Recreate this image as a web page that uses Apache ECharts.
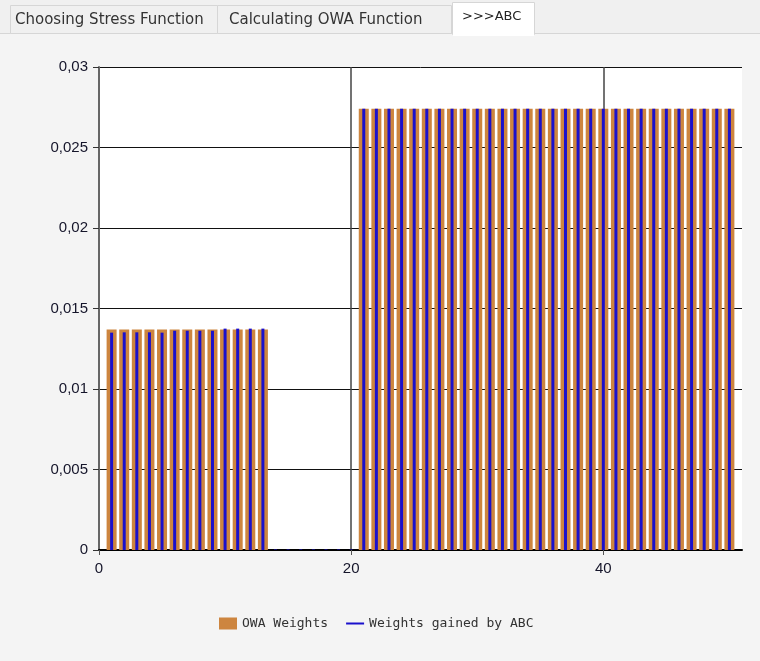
<!DOCTYPE html>
<html lang="en" style="height: 100%">
<head>
  <meta charset="utf-8">
</head>
<body style="height: 100%; margin: 0">
  <div id="container" style="width: 760px; height: 661px"></div>

  <script type="text/javascript" src="https://fastly.jsdelivr.net/npm/echarts@6/dist/echarts.min.js"></script>
  <script type="text/javascript">
    // x positions of the weights
    var positions = [1, 2, 3, 4, 5, 6, 7, 8, 9, 10, 11, 12, 13, 14, 15, 16, 17, 18, 19, 20,
      21, 22, 23, 24, 25, 26, 27, 28, 29, 30, 31, 32, 33, 34, 35, 36, 37, 38, 39, 40,
      41, 42, 43, 44, 45, 46, 47, 48, 49, 50];
    // OWA Weights (orange columns)
    var owaWeights = [0.0137, 0.0137, 0.0137, 0.0137, 0.0137, 0.0137, 0.0137, 0.0137, 0.0137, 0.0137,
      0.0137, 0.0137, 0.0137, 0, 0, 0, 0, 0, 0, 0,
      0.0274, 0.0274, 0.0274, 0.0274, 0.0274, 0.0274, 0.0274, 0.0274, 0.0274, 0.0274,
      0.0274, 0.0274, 0.0274, 0.0274, 0.0274, 0.0274, 0.0274, 0.0274, 0.0274, 0.0274,
      0.0274, 0.0274, 0.0274, 0.0274, 0.0274, 0.0274, 0.0274, 0.0274, 0.0274, 0.0274];
    // Weights gained by ABC (thin blue)
    var abcWeights = [0.0135, 0.01352, 0.01352, 0.01352, 0.0135, 0.01362, 0.01362, 0.01362, 0.01362, 0.01375,
      0.01375, 0.01375, 0.01375, 0.00003, 0.00003, 0.00003, 0.00003, 0.00003, 0.00003, 0.00003,
      0.0274, 0.0274, 0.0274, 0.0274, 0.0274, 0.0274, 0.0274, 0.0274, 0.0274, 0.0274,
      0.0274, 0.0274, 0.0274, 0.0274, 0.0274, 0.0274, 0.0274, 0.0274, 0.0274, 0.0274,
      0.0274, 0.0274, 0.0274, 0.0274, 0.0274, 0.0274, 0.0274, 0.0274, 0.0274, 0.0274];
    var tabNames = ['Choosing Stress Function', 'Calculating OWA Function', '>>>ABC'];

    var dom = document.getElementById('container');
    var myChart = echarts.init(dom, null, { renderer: 'canvas' });

    var labelFont = { fontFamily: 'Liberation Sans', fontSize: 15, color: '#15152a' };

    var option = {
      backgroundColor: '#f4f4f4',
      animation: false,
      graphic: [
        { type: 'rect', shape: { x: 0, y: 0, width: 760, height: 33 }, style: { fill: '#f0f0f0' } },
        { type: 'line', shape: { x1: 0, y1: 33.5, x2: 760, y2: 33.5 }, style: { stroke: '#d6d6d6', lineWidth: 1 } },
        { type: 'rect', shape: { x: 10.5, y: 5.5, width: 207, height: 28 }, style: { fill: '#f0f0f0', stroke: '#d6d6d6' } },
        { type: 'rect', shape: { x: 217.5, y: 5.5, width: 234, height: 28 }, style: { fill: '#f0f0f0', stroke: '#d6d6d6' } },
        { type: 'rect', shape: { x: 452.5, y: 2.5, width: 82, height: 32 }, style: { fill: '#ffffff', stroke: '#d6d6d6' } },
        { type: 'rect', shape: { x: 453, y: 33, width: 81, height: 3 }, style: { fill: '#ffffff' } },
        { type: 'text', x: 15, y: 20, style: { text: tabNames[0], font: '15px "DejaVu Sans"', fill: '#333', align: 'left', verticalAlign: 'middle' } },
        { type: 'text', x: 229, y: 20, style: { text: tabNames[1], font: '15px "DejaVu Sans"', fill: '#333', align: 'left', verticalAlign: 'middle' } },
        { type: 'text', x: 462, y: 17, style: { text: tabNames[2], font: '13px "DejaVu Sans"', fill: '#222', align: 'left', verticalAlign: 'middle' } }
      ],
      legend: {
        left: 219,
        top: 617,
        padding: 0,
        itemWidth: 18,
        itemHeight: 12,
        itemGap: 18,
        textStyle: { fontFamily: 'DejaVu Sans Mono', fontSize: 13, color: '#333' },
        data: [
          { name: 'OWA Weights', icon: 'rect' },
          { name: 'Weights gained by ABC', icon: 'path://M0,0H18V2H0Z', itemStyle: { color: '#1a10cc' } }
        ]
      },
      grid: {
        left: 99,
        right: 18,
        top: 67,
        bottom: 111,
        show: true,
        backgroundColor: '#ffffff',
        borderWidth: 0
      },
      xAxis: [
        {
          type: 'value',
          min: 0,
          max: 51,
          interval: 20,
          axisLine: { show: true, onZero: false, lineStyle: { color: '#000', width: 2 } },
          axisTick: { show: true, length: 5, lineStyle: { color: '#555' } },
          axisLabel: Object.assign({ margin: 11, showMaxLabel: false }, labelFont),
          splitLine: { show: true, showMaxLine: false, lineStyle: { color: '#444', width: 1.5 } }
        },
        { type: 'value', min: 0, max: 51, show: false }
      ],
      yAxis: {
        type: 'value',
        min: 0,
        max: 0.03,
        interval: 0.005,
        axisLine: { show: true, lineStyle: { color: '#666', width: 2 } },
        axisTick: { show: true, length: 6, lineStyle: { color: '#333' } },
        axisLabel: Object.assign({
          margin: 11,
          formatter: function (v) { return String(v).replace('.', ','); }
        }, labelFont),
        splitLine: { show: true, lineStyle: { color: '#111', width: 1 } }
      },
      series: [
        {
          name: 'OWA Weights',
          type: 'bar',
          xAxisIndex: 0,
          barWidth: 10,
          itemStyle: { color: '#cd853f' },
          data: positions.map(function (x, i) { return [x, owaWeights[i]]; }),
          z: 2
        },
        {
          name: 'Weights gained by ABC',
          type: 'bar',
          xAxisIndex: 1,
          barWidth: 3,
          itemStyle: { color: '#1a10cc' },
          data: positions.map(function (x, i) { return [x, abcWeights[i]]; }),
          z: 3
        }
      ]
    };

    myChart.setOption(option);
    window.addEventListener('resize', myChart.resize);
  </script>
</body>
</html>
